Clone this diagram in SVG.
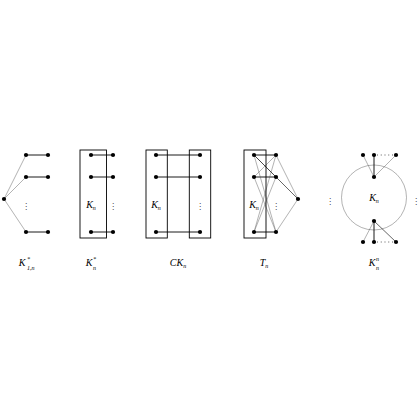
<svg xmlns="http://www.w3.org/2000/svg" width="420" height="420" viewBox="0 0 420 420">
<style>
.thin{stroke:#555;stroke-width:0.45;fill:none}
.thick{stroke:#000;stroke-width:0.9;fill:none}
.box{stroke:#000;stroke-width:0.9;fill:none}
.n{fill:#000}
.lbl{font-family:"Liberation Serif",serif;font-style:italic;font-size:10px;fill:#000}
.sm{font-size:6px}
.dots{font-family:"DejaVu Sans",sans-serif;font-size:8px;fill:#444}
</style>
<rect width="420" height="420" fill="#fff"/>
<g id="connectors">
<line class="thin" x1="4" y1="199" x2="26" y2="155"/>
<line class="thin" x1="4" y1="199" x2="26" y2="177"/>
<line class="thin" x1="4" y1="199" x2="26" y2="232"/>
<line class="thick" x1="26" y1="155" x2="48" y2="155"/>
<line class="thick" x1="26" y1="177" x2="48" y2="177"/>
<line class="thick" x1="26" y1="232" x2="48" y2="232"/>
<line class="thick" x1="91" y1="155" x2="113" y2="155"/>
<line class="thick" x1="91" y1="177" x2="113" y2="177"/>
<line class="thick" x1="91" y1="232" x2="113" y2="232"/>
<line class="thick" x1="156" y1="155" x2="200" y2="155"/>
<line class="thick" x1="156" y1="177" x2="200" y2="177"/>
<line class="thick" x1="156" y1="232" x2="200" y2="232"/>
<line class="thick" x1="254" y1="155" x2="276" y2="155"/>
<line class="thick" x1="254" y1="177" x2="276" y2="177"/>
<line class="thick" x1="254" y1="232" x2="276" y2="232"/>
<line class="thin" x1="254" y1="155" x2="276" y2="177"/>
<line class="thin" x1="254" y1="155" x2="276" y2="232"/>
<line class="thin" x1="254" y1="177" x2="276" y2="155"/>
<line class="thin" x1="254" y1="177" x2="276" y2="232"/>
<line class="thin" x1="254" y1="232" x2="276" y2="155"/>
<line class="thin" x1="254" y1="232" x2="276" y2="177"/>
<line class="thin" x1="276" y1="155" x2="298" y2="199"/>
<line class="thick" x1="254" y1="155" x2="298" y2="199" style="stroke-width:0.6"/>
<line class="thin" x1="276" y1="232" x2="298" y2="199"/>
<circle class="thin" cx="374" cy="197.5" r="32.5"/>
<line class="thin" x1="363" y1="155" x2="374" y2="177"/>
<line class="thick" x1="374" y1="155" x2="374" y2="177"/>
<line class="thin" x1="396" y1="155" x2="374" y2="177"/>
<line class="thin" x1="363" y1="242" x2="374" y2="221"/>
<line class="thick" x1="374" y1="242" x2="374" y2="221"/>
<line class="thick" x1="396" y1="242" x2="374" y2="221" style="stroke-width:0.6"/>
<line x1="377" y1="155" x2="394" y2="155" stroke="#000" stroke-width="0.8" stroke-dasharray="0.8,3"/>
<line x1="377" y1="242" x2="394" y2="242" stroke="#000" stroke-width="0.8" stroke-dasharray="0.8,3"/>
</g>
<g id="K1n-star">
<circle class="n" cx="4" cy="199" r="2.1"/>
<circle class="n" cx="26" cy="155" r="2.1"/><circle class="n" cx="48" cy="155" r="2.1"/>
<circle class="n" cx="26" cy="177" r="2.1"/><circle class="n" cx="48" cy="177" r="2.1"/>
<circle class="n" cx="26" cy="232" r="2.1"/><circle class="n" cx="48" cy="232" r="2.1"/>
<text class="dots" x="26" y="209" text-anchor="middle">⋮</text>
<text class="lbl" x="22" y="266" text-anchor="middle">K</text>
<text class="lbl sm" x="27" y="261">*</text>
<text class="lbl sm" x="27" y="269.5">1,n</text>
</g>
<g id="Kn-star">
<rect class="box" x="80" y="150" width="26.5" height="88"/>
<circle class="n" cx="91" cy="155" r="2.1"/><circle class="n" cx="113" cy="155" r="2.1"/>
<circle class="n" cx="91" cy="177" r="2.1"/><circle class="n" cx="113" cy="177" r="2.1"/>
<circle class="n" cx="91" cy="232" r="2.1"/><circle class="n" cx="113" cy="232" r="2.1"/>
<text class="lbl" x="91" y="208" text-anchor="middle">K<tspan class="sm" dy="2">n</tspan></text>
<text class="dots" x="113" y="209" text-anchor="middle">⋮</text>
<text class="lbl" x="89" y="266" text-anchor="middle">K</text>
<text class="lbl sm" x="93" y="261">*</text>
<text class="lbl sm" x="93" y="269.5">n</text>
</g>
<g id="CKn">
<rect class="box" x="146" y="150" width="21.3" height="88"/>
<rect class="box" x="189.3" y="150" width="21.4" height="88"/>
<circle class="n" cx="156" cy="155" r="2.1"/><circle class="n" cx="200" cy="155" r="2.1"/>
<circle class="n" cx="156" cy="177" r="2.1"/><circle class="n" cx="200" cy="177" r="2.1"/>
<circle class="n" cx="156" cy="232" r="2.1"/><circle class="n" cx="200" cy="232" r="2.1"/>
<text class="lbl" x="156" y="208" text-anchor="middle">K<tspan class="sm" dy="2">n</tspan></text>
<text class="dots" x="200" y="209" text-anchor="middle">⋮</text>
<text class="lbl" x="178" y="266" text-anchor="middle">CK<tspan class="sm" dy="2">n</tspan></text>
</g>
<g id="Tn">
<rect class="box" x="244" y="150" width="22" height="88"/>
<circle class="n" cx="254" cy="155" r="2.1"/><circle class="n" cx="276" cy="155" r="2.1"/>
<circle class="n" cx="254" cy="177" r="2.1"/><circle class="n" cx="276" cy="177" r="2.1"/>
<circle class="n" cx="254" cy="232" r="2.1"/><circle class="n" cx="276" cy="232" r="2.1"/>
<circle class="n" cx="298" cy="199" r="2.1"/>
<text class="lbl" x="254" y="208" text-anchor="middle">K<tspan class="sm" dy="2">n</tspan></text>
<text class="dots" x="276" y="209" text-anchor="middle">⋮</text>
<text class="lbl" x="264" y="266" text-anchor="middle">T<tspan class="sm" dy="2">n</tspan></text>
</g>
<g id="Knn">
<circle class="n" cx="374" cy="177" r="2.1"/><circle class="n" cx="374" cy="221" r="2.1"/>
<circle class="n" cx="363" cy="155" r="2.1"/><circle class="n" cx="374" cy="155" r="2.1"/><circle class="n" cx="396" cy="155" r="2.1"/>
<circle class="n" cx="363" cy="242" r="2.1"/><circle class="n" cx="374" cy="242" r="2.1"/><circle class="n" cx="396" cy="242" r="2.1"/>
<text class="lbl" x="374" y="201" text-anchor="middle">K<tspan class="sm" dy="2">n</tspan></text>
<text class="dots" x="330" y="204" text-anchor="middle">⋮</text>
<text class="dots" x="416" y="204" text-anchor="middle">⋮</text>
<text class="lbl" x="372" y="266" text-anchor="middle">K</text>
<text class="lbl sm" x="376" y="261">n</text>
<text class="lbl sm" x="376" y="269.5">n</text>
</g>
</svg>
